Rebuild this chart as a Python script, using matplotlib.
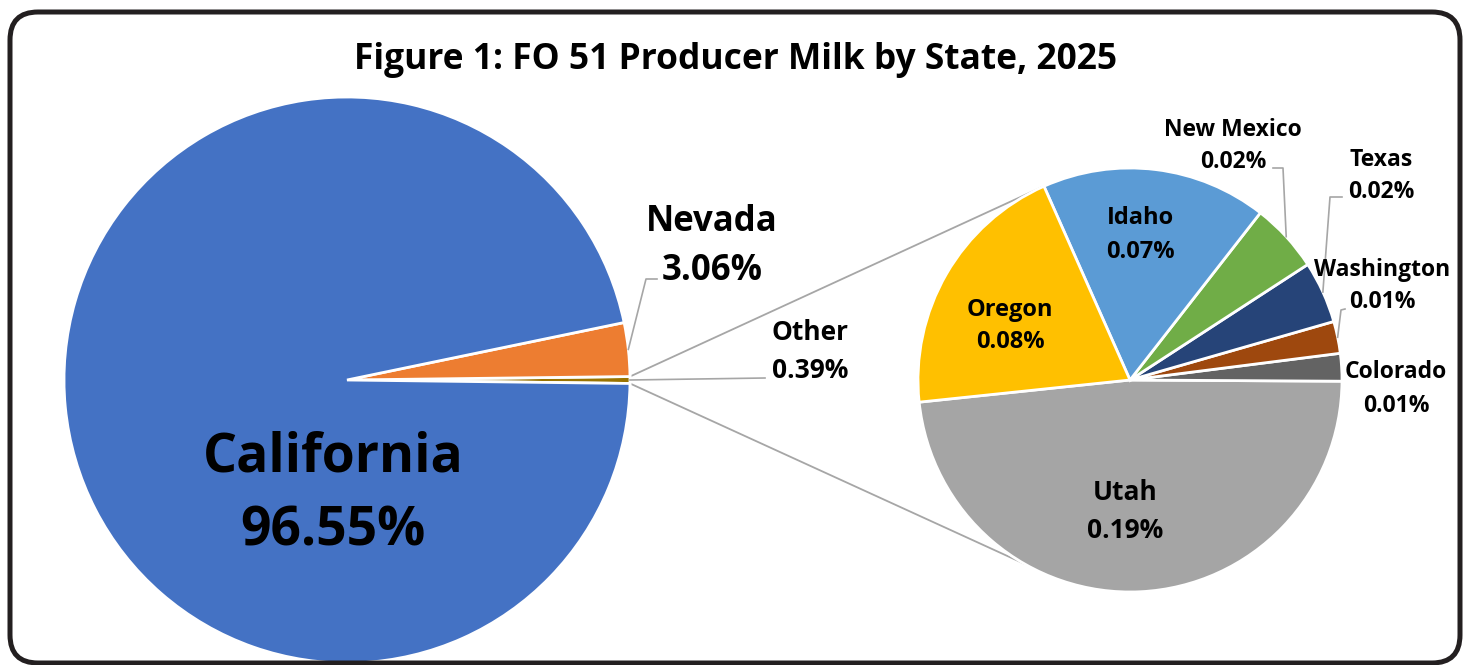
import numpy as np
import matplotlib.pyplot as plt
from matplotlib.patches import FancyBboxPatch

plt.rcParams['font.family'] = ['Open Sans', 'DejaVu Sans']

# main pie
main_states = ['California', 'Nevada', 'Other']
main_shares = [96.55, 3.06, 0.39]
main_colors = ['#4472C4', '#ED7D31', '#997300']

# breakdown of "Other"
other_states = ['Utah', 'Colorado', 'Washington', 'Texas', 'New Mexico', 'Idaho', 'Oregon']
other_shares = [0.188, 0.0082, 0.0095, 0.0184, 0.0206, 0.067, 0.078]
other_colors = ['#A5A5A5', '#636363', '#9E480E', '#264478', '#70AD47', '#5B9BD5', '#FFC000']

title = 'Figure 1: FO 51 Producer Milk by State, 2025'

W, H = 1467, 665


def px(x, y):
    # pixel coords (y down) -> data coords (y up)
    return x, H - y


fig = plt.figure(figsize=(W / 100, H / 100), dpi=100)
ax = fig.add_axes([0, 0, 1, 1])

# --- left pie ---
c1, r1 = px(347, 380), 283
start1 = -main_shares[2] * 3.6 / 2
w1, _ = ax.pie(main_shares[::-1], colors=main_colors[::-1], center=c1, radius=r1,
               startangle=start1, counterclock=True,
               wedgeprops=dict(edgecolor='white', linewidth=2))

# --- right pie ---
c2, r2 = px(1130, 380), 212
w2, _ = ax.pie(other_shares, colors=other_colors, center=c2, radius=r2,
               startangle=186, counterclock=True,
               wedgeprops=dict(edgecolor='white', linewidth=2))

ax.set_xlim(0, W)
ax.set_ylim(0, H)
ax.set_aspect('auto')
ax.axis('off')

# connector lines from "Other" wedge to second pie
other_w = w1[0]
for a_left, a_right in [(other_w.theta2, 114.5), (other_w.theta1, 240)]:
    x0 = c1[0] + r1 * np.cos(np.radians(a_left))
    y0 = c1[1] + r1 * np.sin(np.radians(a_left))
    x1 = c2[0] + r2 * np.cos(np.radians(a_right))
    y1 = c2[1] + r2 * np.sin(np.radians(a_right))
    ax.plot([x0, x1], [y0, y1], color='#A6A6A6', lw=1.3, zorder=0)

lead_col = '#A6A6A6'


def leader(wedge, center, r, elbow, end):
    ang = np.radians((wedge.theta1 + wedge.theta2) / 2)
    x0 = center[0] + r * np.cos(ang)
    y0 = center[1] + r * np.sin(ang)
    ex, ey = px(*elbow)
    tx, ty = px(*end)
    ax.plot([x0, ex, tx], [y0, ey, ty], color=lead_col, lw=1.2, zorder=3)


def two_line(name, val, pos, size, gap):
    x, y = px(*pos)
    ax.text(x, y + gap / 2, name, ha='center', va='center_baseline', fontsize=size,
            fontweight='bold', color='black', zorder=5)
    ax.text(x, y - gap / 2, val, ha='center', va='center_baseline', fontsize=size,
            fontweight='bold', color='black', zorder=5)


fmt = '{:.2f}%'.format

# main pie labels
two_line(main_states[0], fmt(main_shares[0]), (333, 488), 38.5, 73)
two_line(main_states[1], fmt(main_shares[1]), (712, 242), 25, 49)
two_line(main_states[2], fmt(main_shares[2]), (810, 349), 19, 38)
leader(w1[1], c1, r1, (646, 279), (657, 279))
ax.plot([c1[0] + r1, px(765, 378)[0]], [c1[1], px(765, 378)[1]], color=lead_col, lw=1.2)

# second pie labels
lab_pos = {
    'Utah': (1125, 509), 'Oregon': (1010, 323), 'Idaho': (1140, 232),
    'New Mexico': (1233, 143), 'Texas': (1381, 173), 'Washington': (1382, 283),
    'Colorado': (1396, 386),
}
lab_size = {'Utah': 19, 'Oregon': 17, 'Idaho': 17}
for name, val in zip(other_states, other_shares):
    size = lab_size.get(name, 16.5)
    gap = 38 if name == 'Utah' else 33
    two_line(name, fmt(val), lab_pos[name], size, gap)

leader(w2[4], c2, r2, (1283, 168), (1273, 168))
leader(w2[3], c2, r2, (1330, 197), (1342, 197))
leader(w2[2], c2, r2, (1341, 310), (1345, 309))

# title
ax.text(*px(736, 56), title, ha='center', va='center_baseline', fontsize=25.5,
        fontweight='bold', color='black')

# rounded border
bx0, by0 = px(10, 663)
border = FancyBboxPatch((bx0 + 28, by0 + 28), 1450 - 56, 651 - 56,
                        boxstyle='round,pad=28', fill=False, edgecolor='#231F20',
                        linewidth=3.6, zorder=10, clip_on=False)
ax.add_patch(border)

fig.savefig('out.png', dpi=100, facecolor='white')
